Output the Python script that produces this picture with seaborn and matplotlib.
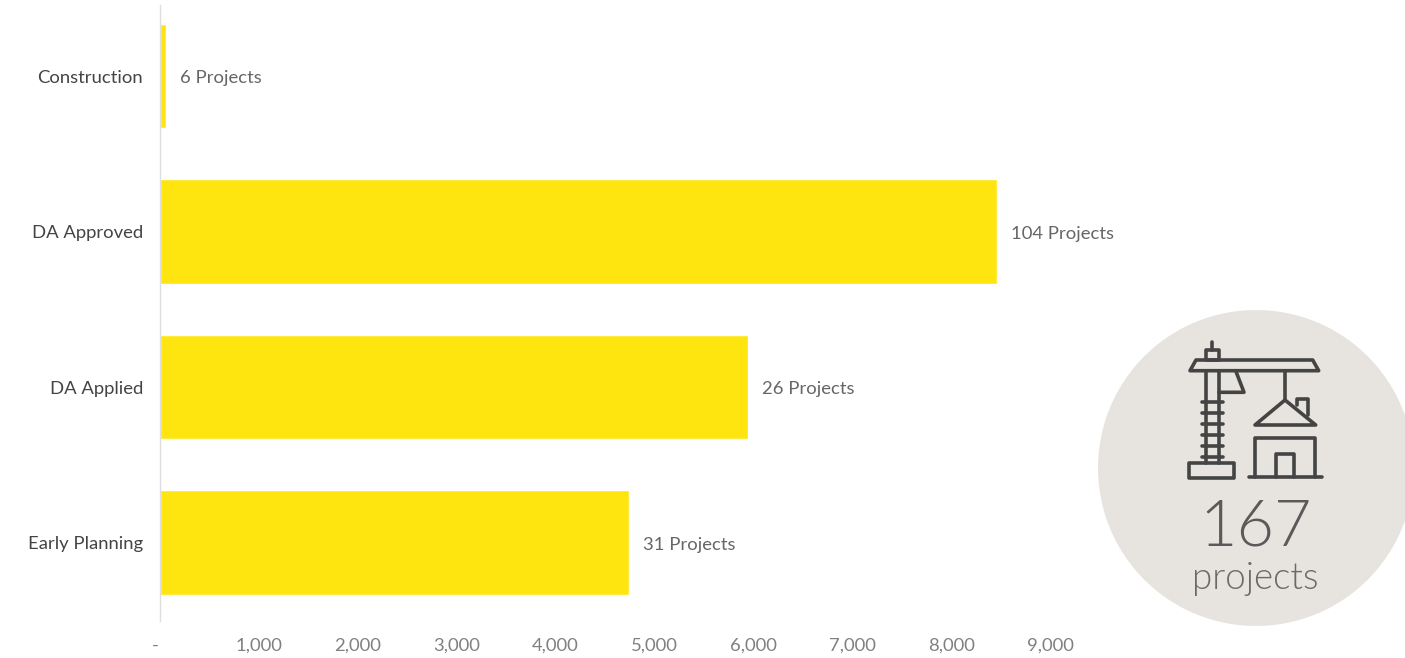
import matplotlib
matplotlib.use("Agg")
import matplotlib.pyplot as plt
import matplotlib.transforms as mtransforms
from matplotlib import font_manager as fm
from matplotlib.patches import Circle, Polygon, Rectangle
import pandas as pd
import seaborn as sns

# Pipeline data
stages = ["Construction", "DA Approved", "DA Applied", "Early Planning"]
lots = [62, 8455, 5940, 4737]
project_counts = [6, 104, 26, 31]
x_ticks = [0, 1000, 2000, 3000, 4000, 5000, 6000, 7000, 8000, 9000]
total_projects = 167

W, H = 1405, 658
sns.set_theme(style="white")
plt.rcParams["font.family"] = ["Lato", "DejaVu Sans"]

# Lato Light for the badge figures, located by file name
light_files = [f for f in fm.findSystemFonts() if f.endswith("Lato-Light.ttf")]
light = fm.FontProperties(fname=light_files[0]) if light_files else fm.FontProperties(family="Lato", weight=300)

fig = plt.figure(figsize=(W / 100, H / 100), dpi=100, facecolor="white")

# Main axes placed in pixel terms
left, right, top, bottom = 159.6, 1100.0, 5.0, 621.0
ax = fig.add_axes([left / W, 1 - bottom / H, (right - left) / W, (bottom - top) / H])

df = pd.DataFrame({"stage": stages, "lots": lots})
sns.barplot(data=df, y="stage", x="lots", order=stages, orient="y",
            color="#FFE50F", saturation=1, width=0.672, ax=ax)

ax.set_xlim(0, (right - left) / 99.0 * 1000)
ax.set_ylim((bottom - 76.2) / 155.5, (top - 76.2) / 155.5)
ax.set_xlabel("")
ax.set_ylabel("")

ax.set_xticks(x_ticks)
ax.set_xticklabels(["-" if v == 0 else f"{v:,}" for v in x_ticks])
ax.tick_params(axis="x", length=0, pad=12, labelsize=13.3, labelcolor="#808080")
ax.tick_params(axis="y", length=0, pad=11.8, labelsize=13.3, labelcolor="#444444")

# The zero label sits slightly left of the axis
zero_label = ax.get_xticklabels()[0]
zero_label.set_transform(zero_label.get_transform()
                         + mtransforms.ScaledTranslation(-4 / 100, 0, fig.dpi_scale_trans))

for name in ["top", "right", "bottom"]:
    ax.spines[name].set_visible(False)
ax.spines["left"].set_color("#DEDEDE")
ax.spines["left"].set_linewidth(1.0)

value_labels = ax.bar_label(ax.containers[0], labels=[f"{n} Projects" for n in project_counts],
                            padding=10.2, fontsize=13.3, color="#666666")
for label in value_labels:
    label.xyann = (label.xyann[0], label.xyann[1] - 1.4)

# Overlay in pixel coordinates for the summary badge
ov = fig.add_axes([0, 0, 1, 1], facecolor="none")
ov.set_xlim(0, W)
ov.set_ylim(H, 0)
ov.axis("off")
ov.add_patch(Circle((1256, 468), 158, facecolor="#E7E4DF", edgecolor="none"))

ink = "#444444"
style = dict(color=ink, lw=2.6, solid_capstyle="round", solid_joinstyle="round")
shape = dict(fill=False, edgecolor=ink, lw=2.6, joinstyle="round")


def stroke(*pts):
    ov.plot([p[0] for p in pts], [p[1] for p in pts], **style)


# Crane
stroke((1211.7, 341.7), (1211.7, 350))
ov.add_patch(Rectangle((1205.7, 350), 13.3, 9.5, **shape))
ov.add_patch(Polygon([(1190, 370.7), (1196, 360), (1312.7, 360), (1318.7, 370.7)], closed=True, **shape))
stroke((1205.7, 370.7), (1205.7, 463))
stroke((1219, 370.7), (1219, 463))
for y in (402.3, 413.3, 424, 435, 445.7, 456.7):
    stroke((1201.7, y), (1222.7, y))
ov.add_patch(Rectangle((1189.3, 463.3), 45, 15, **shape))
stroke((1235.7, 370.7), (1244, 392.3), (1219, 392.3))
stroke((1285, 370.7), (1285, 399))

# House on the hook
ov.add_patch(Polygon([(1255, 425), (1285, 400), (1315.7, 425)], closed=True, **shape))
stroke((1296.7, 405), (1296.7, 399), (1307.7, 399), (1307.7, 415))
stroke((1255, 477), (1255, 437.7), (1315, 437.7), (1315, 477))
stroke((1249.3, 477.3), (1321.7, 477.3))
stroke((1276, 477), (1276, 454), (1294.3, 454), (1294.3, 477))

ov.text(1256, 528, str(total_projects), ha="center", va="center", fontsize=46.5,
        fontproperties=light, color="#5A5A5A")
ov.text(1255, 579, "projects", ha="center", va="center", fontsize=26.5,
        fontproperties=light, color="#6A6A6A")

fig.savefig("out.png", dpi=100, facecolor="white")
